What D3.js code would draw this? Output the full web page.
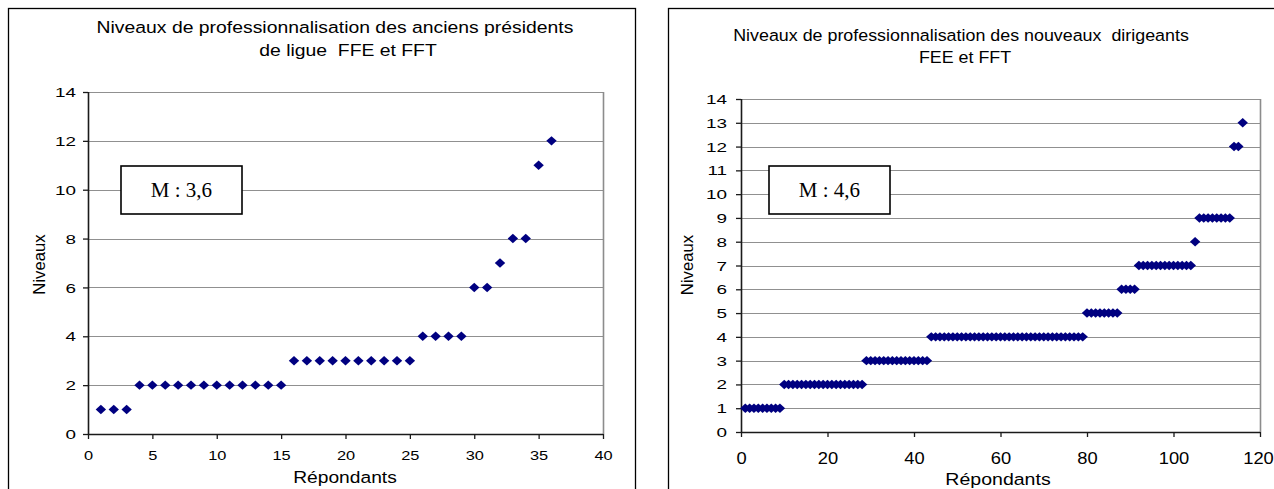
<!DOCTYPE html>
<html><head><meta charset="utf-8">
<script src="https://cdn.jsdelivr.net/npm/d3@7"></script>
<style>body{margin:0;background:#fff}svg{display:block}</style>
</head><body>
<svg id="c" width="1274" height="489"></svg>
<script>
// ---- data ----
const leftTitle = ["Niveaux de professionnalisation des anciens présidents", "de ligue  FFE et FFT"];
const rightTitle = ["Niveaux de professionnalisation des nouveaux  dirigeants", "FEE et FFT"];
const leftRespondents = [1,2,3,4,5,6,7,8,9,10,11,12,13,14,15,16,17,18,19,20,21,22,23,24,25,26,27,28,29,30,31,32,33,34,35,36];
const leftLevels = [1,1,1,2,2,2,2,2,2,2,2,2,2,2,2,3,3,3,3,3,3,3,3,3,3,4,4,4,4,6,6,7,8,8,11,12];
const rightLevels = [
  1,1,1,1,1,1,1,1,1,
  2,2,2,2,2,2,2,2,2,2,2,2,2,2,2,2,2,2,2,
  3,3,3,3,3,3,3,3,3,3,3,3,3,3,3,
  4,4,4,4,4,4,4,4,4,4,4,4,4,4,4,4,4,4,4,4,4,4,4,4,4,4,4,4,4,4,4,4,4,4,4,4,
  5,5,5,5,5,5,5,5,
  6,6,6,6,
  7,7,7,7,7,7,7,7,7,7,7,7,7,
  8,
  9,9,9,9,9,9,9,9,
  12,12,
  13];
const leftXTicks = [0,5,10,15,20,25,30,35,40];
const leftYTicks = [0,2,4,6,8,10,12,14];
const rightXTicks = [0,20,40,60,80,100,120];
const rightYTicks = [0,1,2,3,4,5,6,7,8,9,10,11,12,13,14];
const leftMean = "M : 3,6";
const rightMean = "M : 4,6";
const xLabel = "Répondants";
const yLabel = "Niveaux";

const svg = d3.select("#c");
const FONT = "'Liberation Sans', Arial, sans-serif";
const diamond = "M0,-4.7L5.2,0L0,4.7L-5.2,0Z";

function stretchedText(g, txt, x, y, fs, sx, anchor){
  return g.append("text").attr("transform",`translate(${x},${y}) scale(${sx},1)`)
    .attr("text-anchor", anchor || "middle").attr("font-family",FONT).attr("font-size",fs)
    .attr("fill","#000").style("white-space","pre").text(txt);
}

function chart(cfg){
  const g = svg.append("g");
  // outer frame
  g.append("rect").attr("x", cfg.frame[0]+0.5).attr("y", cfg.frame[1]+0.5)
    .attr("width", cfg.frame[2]).attr("height", cfg.frame[3])
    .attr("fill","none").attr("stroke","#000").attr("stroke-width",1.3);
  // title
  cfg.title.forEach((t,i)=>{
    stretchedText(g, t, cfg.titleX[i], cfg.titleY[i], cfg.titleFs, cfg.titleSx);
  });
  const x = d3.scaleLinear().domain(cfg.xDomain).range([cfg.pl, cfg.pr]);
  const y = d3.scaleLinear().domain(cfg.yDomain).range([cfg.pb, cfg.pt]);
  // gridlines
  g.append("g").selectAll("line").data(cfg.yTicks.filter(d=>d>0)).join("line")
    .attr("x1", cfg.pl).attr("x2", cfg.pr)
    .attr("y1", d=>Math.round(y(d))+0.5).attr("y2", d=>Math.round(y(d))+0.5)
    .attr("stroke","#909090").attr("stroke-width",1);
  // right border
  g.append("line").attr("x1", cfg.pr+0.5).attr("x2", cfg.pr+0.5)
    .attr("y1", cfg.pt).attr("y2", cfg.pb).attr("stroke","#8c8c8c").attr("stroke-width",1.6);
  // axes
  const ya = d3.axisLeft(y).tickValues(cfg.yTicks).tickSize(5).tickFormat(d3.format("d"));
  const yg = g.append("g").attr("transform",`translate(${cfg.pl},0)`).call(ya);
  const xa = d3.axisBottom(x).tickValues(cfg.xTicks).tickSize(5).tickFormat(d3.format("d"));
  const xg = g.append("g").attr("transform",`translate(0,${cfg.pb})`).call(xa);
  [yg,xg].forEach(a=>{
    a.select(".domain").attr("stroke","#1a1a1a").attr("stroke-width",1.6);
    a.selectAll(".tick line").attr("stroke","#1a1a1a").attr("stroke-width",1.3);
    a.selectAll("text").attr("font-family",FONT).attr("fill","#000");
  });
  yg.selectAll(".tick text").attr("font-size", cfg.yFont).attr("dy", null)
    .attr("x", -cfg.yGap/cfg.ySx).attr("y", cfg.yFont*0.36)
    .attr("transform", `scale(${cfg.ySx},1)`);
  xg.selectAll(".tick text").attr("font-size", cfg.xFont).attr("dy", null)
    .attr("y", cfg.xBase).attr("transform", `scale(${cfg.xSx},1)`);
  if (cfg.lastShift) {
    xg.selectAll(".tick text").filter(d => d === cfg.xDomain[1])
      .attr("x", cfg.lastShift / cfg.xSx);
  }
  yg.select(".domain").attr("d", `M0.5,${cfg.pt}V${cfg.pb}`);
  xg.select(".domain").attr("d", `M${cfg.pl},0.5H${cfg.pr}`);
  // axis labels
  stretchedText(g, xLabel, cfg.xLabX, cfg.xLabY, 16.7, cfg.xLabSx);
  g.append("text").attr("transform",`translate(${cfg.yLabX},${cfg.yLabY}) rotate(-90)`)
    .attr("text-anchor","middle").attr("font-family",FONT).attr("font-size",16.7).text(yLabel);
  // mean box
  g.append("rect").attr("x", cfg.box[0]).attr("y", cfg.box[1]).attr("width", cfg.box[2]).attr("height", cfg.box[3])
    .attr("fill","#fff").attr("stroke","#000").attr("stroke-width",1.6);
  g.append("text").attr("x", cfg.box[0]+cfg.box[2]/2).attr("y", cfg.box[1]+31)
    .attr("text-anchor","middle").attr("font-family","'Liberation Serif','Times New Roman',serif")
    .attr("font-size",21).text(cfg.mean);
  // points
  g.append("g").selectAll("path").data(cfg.points).join("path")
    .attr("d", diamond).attr("fill","#000080")
    .attr("transform", d=>`translate(${x(d[0])},${y(d[1])})`);
}

chart({
  frame:[8,8,627,520], title:leftTitle, titleX:[335,348], titleY:[33,56], titleFs:16.7, titleSx:1.16,
  xDomain:[0,40], yDomain:[0,14], pl:88, pr:603, pt:92, pb:434,
  xTicks:leftXTicks, yTicks:leftYTicks, xFont:13, xSx:1.26, xBase:26, yFont:13, ySx:1.45, yGap:12,
  xLabX:345, xLabY:483, xLabSx:1.15, yLabX:45, yLabY:264.5,
  box:[121,166,121,48], mean:leftMean,
  points: leftRespondents.map((r,i)=>[r, leftLevels[i]])
});
chart({
  frame:[668,8,620,520], title:rightTitle, titleX:[961,965], titleY:[41,63], titleFs:16.7, titleSx:1.07,
  xDomain:[0,120], yDomain:[0,14], pl:741, pr:1260, pt:99, pb:432,
  xTicks:rightXTicks, yTicks:rightYTicks, xFont:15.8, xSx:1.16, xBase:32, yFont:12.6, ySx:1.5, yGap:14,
  lastShift:-2,
  xLabX:998, xLabY:485, xLabSx:1.17, yLabX:693, yLabY:265,
  box:[769,166,121,48], mean:rightMean,
  points: rightLevels.map((v,i)=>[i+1, v])
});
</script>
</body></html>
